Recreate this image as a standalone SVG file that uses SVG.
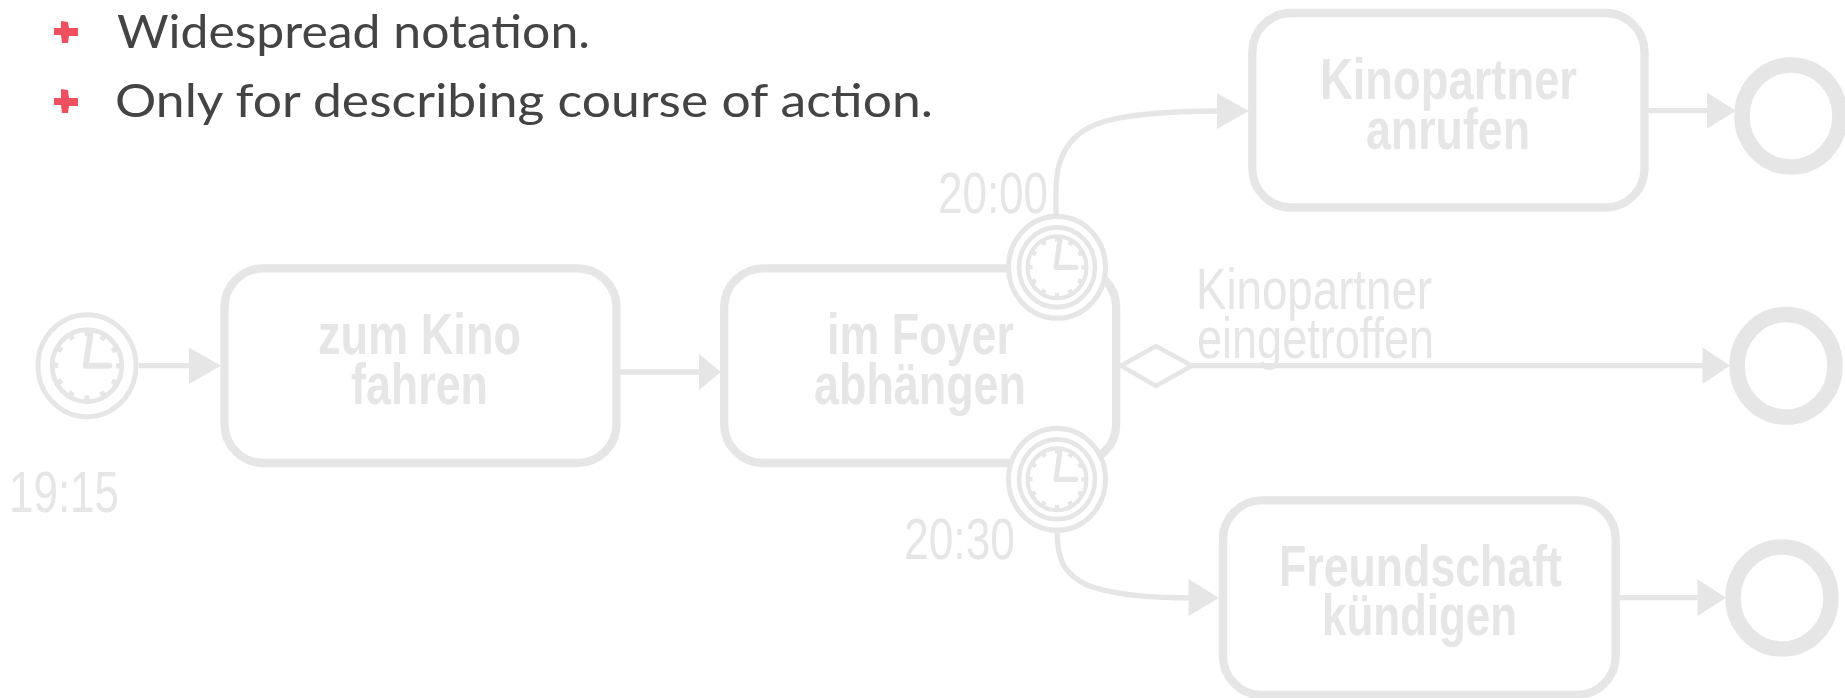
<svg xmlns="http://www.w3.org/2000/svg" width="1845" height="698" viewBox="0 0 1845 698">
<style>
.task{fill:#fff;stroke:#e6e6e6;stroke-width:8.300}
.end{fill:#fff;stroke:#e6e6e6;stroke-width:15.500}
.ring{fill:#fff;stroke:#e6e6e6}
.flow{fill:none;stroke:#e6e6e6;stroke-width:5.300}
.head{fill:#e6e6e6}
.tl{font-family:"Liberation Sans",Arial,sans-serif;font-weight:700;font-size:58px;fill:#e6e6e6}
.lb{font-family:"Liberation Sans",Arial,sans-serif;font-size:58px;fill:#e6e6e6}
.note{font-family:Lato,"Open Sans",sans-serif;font-size:47px;fill:#444}
.plus{fill:#ef5060}
.hand{fill:none;stroke:#e6e6e6;stroke-width:5;stroke-linecap:round;stroke-linejoin:round}
.tick{fill:none;stroke:#e6e6e6;stroke-width:5;stroke-dasharray:4.500 9.637;stroke-dashoffset:2.250}
</style>
<defs>
<g id="clock">
<circle class="tick" r="27"/>
<circle r="29.500" fill="none" stroke="#e6e6e6" stroke-width="4"/>
<path class="hand" d="M3 -27L-1 0H19"/>
</g>
</defs>
<g id="notes">
<path class="plus" d="M61 21l7 1l1 6h9v8h-9l-1 7h-6l-1-8h-7v-7h7z"/>
<path class="plus" d="M61 89l7 1l1 8h9v8h-9l-1 7h-6l-1-8h-7v-7h7z"/>
<text class="note" x="117" y="47.500" textLength="473" lengthAdjust="spacingAndGlyphs">Widespread notation.</text>
<text class="note" x="115" y="116.500" textLength="818" lengthAdjust="spacingAndGlyphs">Only for describing course of action.</text>
</g>
<g id="connectors">
<path class="flow" d="M139 365.700H195"/><path class="head" d="M189 347.500L221 365.700L189 384z"/>
<path class="flow" d="M620 372H705"/><path class="head" d="M699 354L721 372L699 390z"/>
<path class="flow" d="M1056 216L1056 190C1056 150 1075 128 1110 120C1135 114 1175 111 1222 111"/><path class="head" d="M1217 93L1249 111L1217 129z"/>
<path class="flow" d="M1192 365.700H1705"/><path class="head" d="M1702.500 347.300L1730 365.700L1702.500 384z"/>
<path class="flow" d="M1057 530C1057 560 1064 574 1087 585C1110 594 1150 598 1192 598"/><path class="head" d="M1188.500 579L1219 598L1188.500 616z"/>
<path class="flow" d="M1648 110.700H1712"/><path class="head" d="M1707 92.700L1736 110.700L1707 128.700z"/>
<path class="flow" d="M1620 597.700H1700"/><path class="head" d="M1697.500 579.300L1726 597.700L1697.500 616z"/>
</g>
<g id="start"><ellipse class="ring" cx="87" cy="365.700" rx="49" ry="51" stroke-width="5"/><g transform="translate(87 365.700) scale(1.18 1.22)"><use href="#clock"/></g></g>
<g id="task1"><rect class="task" x="224.500" y="268.300" width="392" height="194.700" rx="39"/><text class="tl" x="318" y="354" textLength="203" lengthAdjust="spacingAndGlyphs">zum Kino</text><text class="tl" x="351" y="404" textLength="137" lengthAdjust="spacingAndGlyphs">fahren</text></g>
<g id="task2"><rect class="task" x="724.200" y="268.300" width="392" height="194.700" rx="39"/><text class="tl" x="827" y="354" textLength="187" lengthAdjust="spacingAndGlyphs">im Foyer</text><text class="tl" x="814" y="403.500" textLength="212" lengthAdjust="spacingAndGlyphs">abhängen</text></g>
<g id="task3"><rect class="task" x="1252.300" y="13" width="392.200" height="194.500" rx="39"/><text class="tl" x="1320" y="99" textLength="257" lengthAdjust="spacingAndGlyphs">Kinopartner</text><text class="tl" x="1366" y="149" textLength="164" lengthAdjust="spacingAndGlyphs">anrufen</text></g>
<g id="task4"><rect class="task" x="1223" y="500.300" width="392.700" height="194.700" rx="39"/><text class="tl" x="1279" y="585.500" textLength="283" lengthAdjust="spacingAndGlyphs">Freundschaft</text><text class="tl" x="1322" y="635" textLength="195" lengthAdjust="spacingAndGlyphs">kündigen</text></g>
<g id="timer1" transform="translate(1057 267.300) scale(1 1.050)"><circle class="ring" r="48.500" stroke-width="5"/><circle class="ring" r="38" stroke-width="4.500"/><use href="#clock"/></g>
<g id="timer2" transform="translate(1057 479.300) scale(1 1.050)"><circle class="ring" r="48.500" stroke-width="5"/><circle class="ring" r="38" stroke-width="4.500"/><use href="#clock"/></g>
<g id="gateway"><path d="M1121 365.800L1156 346L1192 365.800L1156 386z" fill="#fff" stroke="#e6e6e6" stroke-width="4.500"/></g>
<g id="end1"><ellipse class="end" cx="1791" cy="116" rx="49" ry="51"/></g>
<g id="end2"><ellipse class="end" cx="1786" cy="365.800" rx="49" ry="51.300"/></g>
<g id="end3"><ellipse class="end" cx="1782" cy="598" rx="49" ry="51"/></g>
<g id="labels">
<text class="lb" x="9" y="511.700" textLength="110" lengthAdjust="spacingAndGlyphs">19:15</text>
<text class="lb" x="938" y="213" textLength="110" lengthAdjust="spacingAndGlyphs">20:00</text>
<text class="lb" x="904" y="558.500" textLength="111" lengthAdjust="spacingAndGlyphs">20:30</text>
<text class="lb" x="1196" y="309.300" textLength="236" lengthAdjust="spacingAndGlyphs">Kinopartner</text>
<text class="lb" x="1197" y="358.300" textLength="237" lengthAdjust="spacingAndGlyphs">eingetroffen</text>
</g>
</svg>
